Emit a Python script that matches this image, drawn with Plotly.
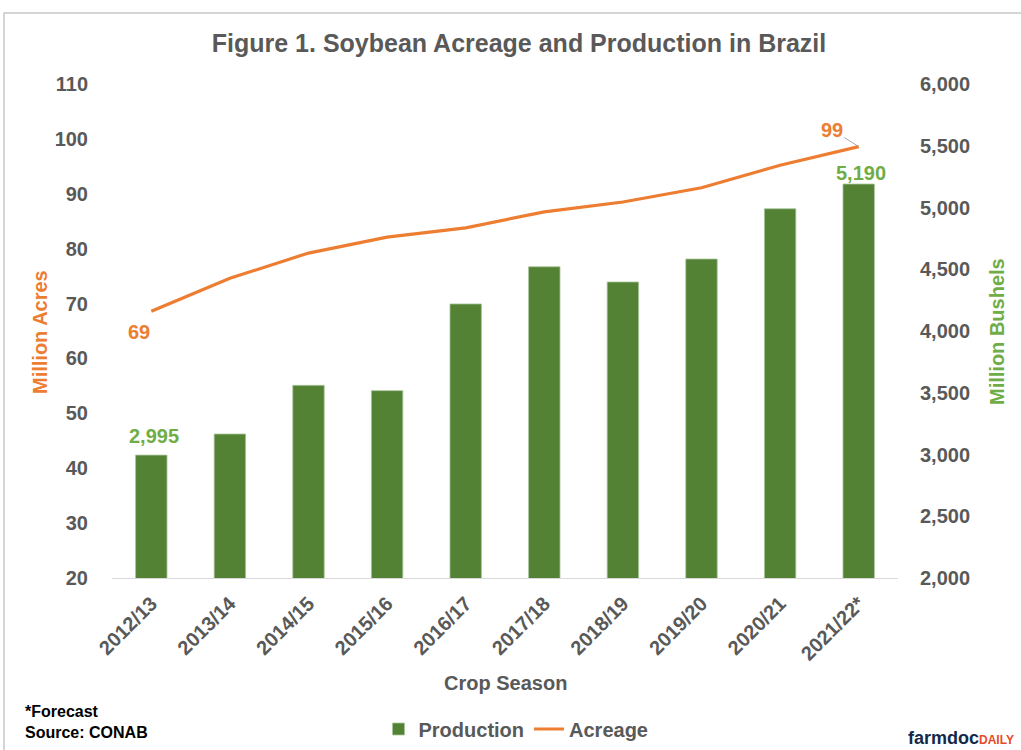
import plotly.graph_objects as go

seasons = ["2012/13", "2013/14", "2014/15", "2015/16", "2016/17",
           "2017/18", "2018/19", "2019/20", "2020/21", "2021/22*"]
production = [2995, 3166, 3560, 3517, 4219, 4520, 4397, 4583, 4990, 5190]
acreage = [68.6, 74.6, 79.2, 82.1, 83.8, 86.7, 88.5, 91.1, 95.2, 98.6]

GREEN = "#548235"
LGREEN = "#70AD47"
ORANGE = "#ED7D31"
GRAY = "#595959"
FONT = "Liberation Sans, Arial, sans-serif"

# plot area in pixels: x 112..898, y 84..578
L, R, T, B = 112, 898, 84, 578
W, H = R - L, B - T
px = lambda x: (x - L) / W
py = lambda y: (B - y) / H

def f(size, color=GRAY, bold=True):
    return dict(size=size, color=color, family=FONT, weight="bold" if bold else "normal")

fig = go.Figure()
fig.add_trace(go.Bar(
    x=seasons, y=production, name="Production",
    marker=dict(color=GREEN, line=dict(color="#A9C59A", width=0.8)),
    width=0.4, yaxis="y",
))
fig.add_trace(go.Scatter(
    x=seasons, y=acreage, name="Acreage", mode="lines",
    line=dict(color=ORANGE, width=3.2), yaxis="y2",
))

annos = [
    dict(x=seasons[0], y=acreage[0], xref="x", yref="y2", text="69",
         showarrow=False, xshift=-12, yshift=-21, font=f(20, ORANGE)),
    dict(x=seasons[-1], y=acreage[-1], xref="x", yref="y2", text="99",
         showarrow=True, arrowhead=0, arrowwidth=1, arrowcolor="#A6A6A6",
         ax=-27, ay=-17, font=f(20, ORANGE)),
    dict(x=seasons[0], y=production[0], xref="x", yref="y", text="2,995",
         showarrow=False, xshift=3, yshift=19, font=f(20, LGREEN)),
    dict(x=seasons[-1], y=production[-1], xref="x", yref="y", text="5,190",
         showarrow=False, xshift=2, yshift=11, font=f(20, LGREEN)),
    dict(x=px(40), y=py(332), xref="paper", yref="paper", text="Million Acres",
         textangle=-90, showarrow=False, xanchor="center", yanchor="middle",
         font=f(20, ORANGE)),
    dict(x=px(997), y=py(332), xref="paper", yref="paper", text="Million Bushels",
         textangle=-90, showarrow=False, xanchor="center", yanchor="middle",
         font=f(20, LGREEN)),
    dict(x=px(505), y=py(683), xref="paper", yref="paper", text="Crop Season",
         showarrow=False, xanchor="center", yanchor="middle", font=f(20)),
    dict(x=px(23), y=py(701), xref="paper", yref="paper",
         text="*Forecast<br>Source: CONAB", align="left",
         showarrow=False, xanchor="left", yanchor="top",
         font=f(16, "#000000")),
    dict(x=px(1016), y=py(738), xref="paper", yref="paper",
         text="farmdoc<span style='font-size:12px;color:#E84A27'>DAILY</span>",
         showarrow=False, xanchor="right", yanchor="middle",
         font=f(18, "#13294B")),
]

fig.update_layout(
    width=1021, height=750,
    paper_bgcolor="white", plot_bgcolor="white",
    margin=dict(l=L, r=1021 - R, t=T, b=750 - B, autoexpand=False),
    font=dict(family=FONT, color=GRAY),
    title=dict(text="Figure 1. Soybean Acreage and Production in Brazil",
               x=519 / 1021, xanchor="center", y=1 - 43 / 750, yanchor="middle",
               font=f(25)),
    xaxis=dict(showline=True, linecolor="#D9D9D9", linewidth=1, showgrid=False,
               ticks="", tickangle=-45, tickfont=f(20), ticklabelstandoff=5),
    yaxis=dict(side="right", range=[2000, 6000], dtick=500, tickformat=",",
               showgrid=False, zeroline=False, ticks="",
               tickfont=f(20), ticklabelstandoff=21),
    yaxis2=dict(side="left", overlaying="y", range=[20, 110], dtick=10,
                showgrid=False, zeroline=False, ticks="",
                tickfont=f(20), ticklabelstandoff=23),
    legend=dict(orientation="h", x=px(516), xanchor="center", y=py(729),
                yanchor="middle", font=f(20), traceorder="normal", itemwidth=30),
    annotations=annos,
    shapes=[dict(type="rect", xref="paper", yref="paper",
                 x0=px(4), x1=px(1040), y0=py(770), y1=py(13),
                 line=dict(color="#C8C8C8", width=1.5), fillcolor="rgba(0,0,0,0)",
                 layer="below")],
)

fig.write_html("out.html", config={"displayModeBar": False},
               post_script="document.body.style.margin='0';document.body.style.overflow='hidden';")
